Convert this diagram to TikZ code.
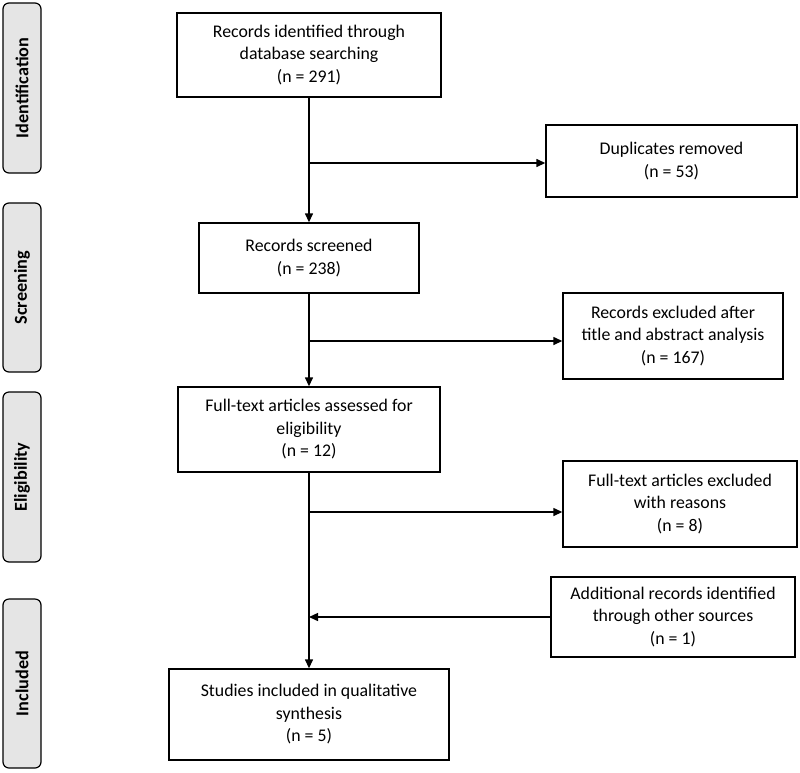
\documentclass[tikz,border=0pt]{standalone}
\usepackage{fontspec}
\setmainfont{Carlito}
\usetikzlibrary{arrows.meta}
\begin{document}
\begin{tikzpicture}[x=1pt,y=-1pt,
  box/.style={draw, line width=1.4pt, inner sep=0pt, align=center,
    font=\fontsize{17.8}{22.5}\selectfont},
  phase/.style={draw, line width=1.2pt, fill=gray!20, rounded corners=6pt,
    inner sep=0pt, minimum width=38pt},
  phtext/.style={rotate=90, font=\fontsize{18.2}{20}\selectfont\bfseries},
  arr/.style={line width=1.4pt, -{Triangle[length=9pt,width=8pt]}}]
\useasboundingbox (0,0) rectangle (800,772);
% phase bars
\node[phase, minimum height=170pt] (pid) at (22,88) {};
\node[phtext] at (pid.center) {Identification};
\node[phase, minimum height=169pt] (psc) at (22,287.5) {};
\node[phtext] at (psc.center) {Screening};
\node[phase, minimum height=170pt] (pel) at (22,477) {};
\node[phtext] at (pel.center) {Eligibility};
\node[phase, minimum height=169pt] (pin) at (22,683.5) {};
\node[phtext] at (pin.center) {Included};
% main boxes
\node[box, minimum width=264pt, minimum height=84pt] (rid) at (309,55)
  {Records identified through\\database searching\\(n = 291)};
\node[box, minimum width=220pt, minimum height=70pt] (scr) at (309,258)
  {Records screened\\(n = 238)};
\node[box, minimum width=262pt, minimum height=85pt] (ft) at (309,429.5)
  {Full-text articles assessed for\\eligibility\\(n = 12)};
\node[box, minimum width=280pt, minimum height=91pt] (stu) at (309,714.5)
  {Studies included in qualitative\\synthesis\\(n = 5)};
% side boxes
\node[box, minimum width=251pt, minimum height=72pt] (dup) at (671.5,161)
  {Duplicates removed\\(n = 53)};
\node[box, minimum width=220pt, minimum height=86pt] (ex1) at (673,336)
  {Records excluded after\\title and abstract analysis\\(n = 167)};
\node[box, minimum width=234pt, minimum height=86pt] (ex2) at (680,504)
  {Full-text articles excluded\\with reasons\\(n = 8)};
\node[box, minimum width=244pt, minimum height=80pt] (add) at (673,617)
  {Additional records identified\\through other sources\\(n = 1)};
% helper coordinates
\coordinate (h1) at (0,163);
\coordinate (h2) at (0,341);
\coordinate (h3) at (0,512);
% connectors
\draw[arr] (rid.south) -- (scr.north);
\draw[arr] (scr.south) -- (ft.north);
\draw[arr] (ft.south) -- (stu.north);
\draw[arr] (rid.south |- h1) -- (dup.west |- h1);
\draw[arr] (scr.south |- h2) -- (ex1.west |- h2);
\draw[arr] (ft.south |- h3) -- (ex2.west |- h3);
\draw[arr] (add.west) -- (ft.south |- add.west);
\end{tikzpicture}
\end{document}
